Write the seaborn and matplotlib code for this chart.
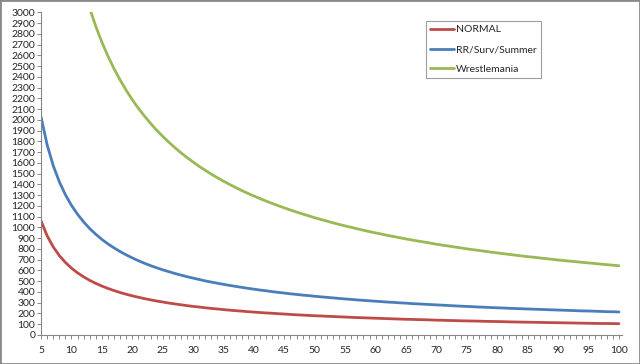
import matplotlib
matplotlib.use("Agg")
import matplotlib.pyplot as plt
import seaborn as sns
import pandas as pd
from matplotlib.ticker import MultipleLocator
from matplotlib.patches import Rectangle

# --- DATOS ---
x_values = list(range(5, 101))

normal = [
    1063, 923, 820, 739, 675, 622, 578, 541, 508, 480,
    455, 433, 413, 395, 379, 364, 351, 338, 327, 316,
    307, 297, 289, 281, 273, 266, 260, 253, 247, 242,
    236, 231, 226, 222, 217, 213, 209, 205, 202, 198,
    195, 191, 188, 185, 182, 179, 177, 174, 172, 169,
    167, 164, 162, 160, 158, 156, 154, 152, 150, 148,
    146, 145, 143, 142, 140, 138, 137, 135, 134, 132,
    131, 130, 129, 127, 126, 125, 124, 122, 121, 120,
    119, 118, 117, 116, 115, 114, 113, 112, 111, 110,
    109, 108, 107, 107, 106, 105,
]

rr_surv_summer = [
    2029, 1770, 1576, 1426, 1305, 1206, 1123, 1052, 990, 937,
    889, 847, 810, 776, 745, 717, 691, 667, 645, 625,
    606, 589, 572, 557, 542, 529, 516, 503, 492, 481,
    471, 461, 452, 443, 434, 426, 418, 411, 403, 396,
    390, 383, 377, 371, 366, 360, 355, 350, 345, 340,
    335, 331, 326, 322, 318, 314, 310, 306, 303, 299,
    296, 292, 289, 286, 283, 280, 277, 274, 271, 268,
    266, 263, 260, 258, 255, 253, 251, 248, 246, 244,
    242, 240, 238, 236, 234, 232, 230, 228, 226, 224,
    223, 221, 219, 217, 216, 214,
]

wrestlemania = [
    6276, 5464, 4860, 4391, 4015, 3706, 3447, 3226, 3036, 2870,
    2723, 2593, 2476, 2371, 2275, 2188, 2108, 2036, 1968, 1905,
    1847, 1793, 1742, 1694, 1650, 1608, 1568, 1531, 1495, 1462,
    1430, 1400, 1371, 1343, 1317, 1292, 1268, 1245, 1223, 1202,
    1182, 1162, 1143, 1125, 1108, 1090, 1074, 1059, 1043, 1028,
    1014, 1001, 987, 974, 961, 949, 938, 926, 915, 904,
    893, 883, 873, 864, 854, 844, 835, 827, 818, 810,
    801, 793, 786, 778, 770, 763, 756, 749, 742, 735,
    728, 723, 716, 710, 704, 697, 692, 686, 681, 675,
    670, 665, 659, 654, 649, 644,
]

series_names = ["NORMAL", "RR/Surv/Summer", "Wrestlemania"]
series_colors = ["#BE4B48", "#4A7EBB", "#98B954"]

# --- TABLA LARGA PARA SEABORN ---
df = pd.DataFrame({
    "x": x_values * 3,
    "valor": normal + rr_surv_summer + wrestlemania,
    "serie": [name for name in series_names for _ in x_values],
})

sns.set_theme(style="white")
plt.rcParams["font.family"] = ["Lato", "DejaVu Sans"]

fig = plt.figure(figsize=(6.4, 3.64), dpi=100)
ax = fig.add_axes([41 / 640, 29 / 364, 581 / 640, 322.7 / 364])

sns.lineplot(data=df, x="x", y="valor", hue="serie",
             palette=dict(zip(series_names, series_colors)),
             linewidth=2.0, errorbar=None, ax=ax)

ax.set_xlim(5, 100.5)
ax.set_ylim(0, 3000)
ax.set_xlabel("")
ax.set_ylabel("")

# ejes estilo Excel
for side in ["top", "right"]:
    ax.spines[side].set_visible(False)
for side in ["left", "bottom"]:
    ax.spines[side].set_color("#868686")
    ax.spines[side].set_linewidth(0.8)

ax.yaxis.set_major_locator(MultipleLocator(100))
ax.xaxis.set_major_locator(MultipleLocator(5))
ax.xaxis.set_minor_locator(MultipleLocator(1))
ax.tick_params(axis="y", which="major", direction="out", length=3.2, width=0.7,
               color="#868686", labelsize=7.5, pad=1, left=True)
ax.tick_params(axis="x", which="both", direction="out", length=3, width=0.7,
               color="#868686", labelsize=7.5, pad=5, bottom=True)
ax.tick_params(axis="x", which="minor", bottom=True)

# leyenda
handles, labels = ax.get_legend_handles_labels()
leg = ax.legend(handles, labels, loc="upper left",
                bbox_to_anchor=(426 / 640, 1 - 21 / 364),
                bbox_transform=fig.transFigure, borderaxespad=0,
                fontsize=7.5, frameon=True, fancybox=False, shadow=False,
                handlelength=2.3, handletextpad=0.15, labelspacing=1.0,
                borderpad=0.4)
leg.get_frame().set_edgecolor("#868686")
leg.get_frame().set_linewidth(0.8)
for line in leg.get_lines():
    line.set_linewidth(2.0)

# borde exterior del grafico
fig.patches.append(Rectangle((0, 0), 1, 1, transform=fig.transFigure,
                             fill=False, edgecolor="#8a8a8a", linewidth=2))

fig.savefig("out.png", dpi=100)
